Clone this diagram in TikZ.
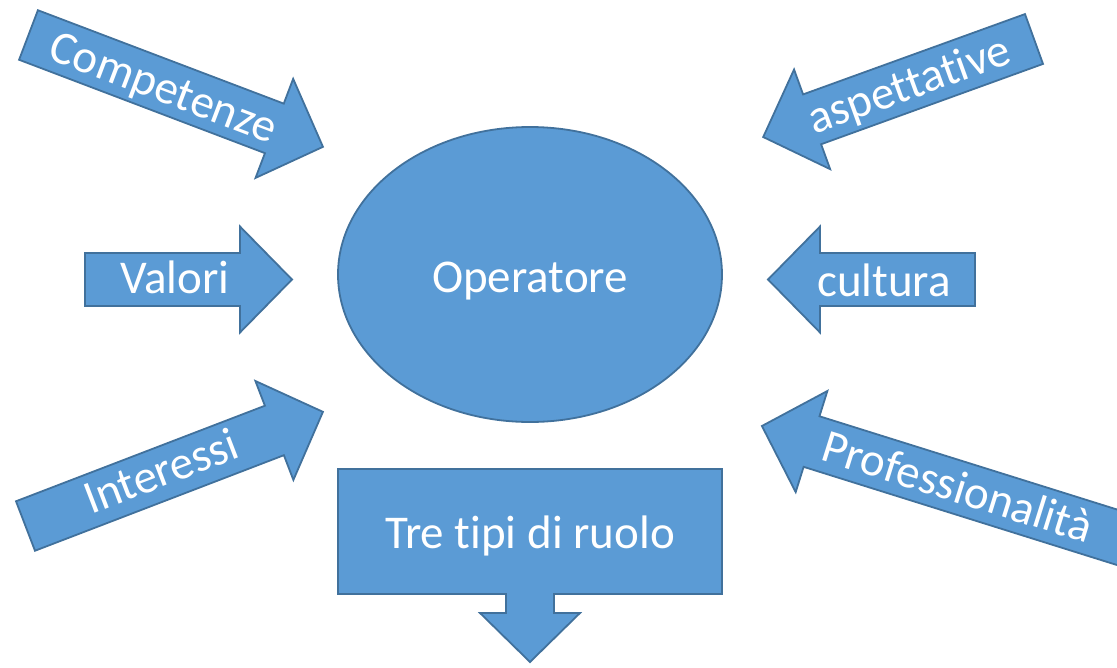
\documentclass[tikz,border=0pt]{standalone}
\usepackage{fontspec}
\setmainfont{Carlito}[Ligatures={NoCommon}]
\usepackage{tikz}
\usetikzlibrary{shapes.geometric}

\definecolor{blkfill}{HTML}{5B9BD5}
\definecolor{blkline}{HTML}{41719C}

\tikzset{
  blk/.style={fill=blkfill, draw=blkline, line width=1.8pt, line join=miter},
  lbl/.style={text=white, font=\fontsize{47}{56}\selectfont, inner sep=0pt, anchor=base}
}

\begin{document}
\begin{tikzpicture}[x=1pt, y=-1pt]
%frame
\useasboundingbox (0,0) rectangle (1117,667);
\clip (0,0) rectangle (1117,667);

%left arrows
\begin{scope}[shift={(28.5,35)}, rotate=-20.8]
\draw[blk] (0,-26.5) -- (263,-26.5) -- (263,-53) -- (315,0) -- (263,53) -- (263,26.5) -- (0,26.5) -- cycle;
\node[lbl, rotate=-20.8] (comp) at (145,16) {Competenze};
\end{scope}
\begin{scope}[shift={(85,279.5)}]
\draw[blk] (0,-26.5) -- (155,-26.5) -- (155,-53) -- (207,0) -- (155,53) -- (155,26.5) -- (0,26.5) -- cycle;
\node[lbl] (val) at (90,14) {Valori};
\end{scope}
\begin{scope}[shift={(25.5,526)}, rotate=21]
\draw[blk] (0,-26.5) -- (266.6,-26.5) -- (266.6,-53) -- (318.6,0) -- (266.6,53) -- (266.6,26.5) -- (0,26.5) -- cycle;
\node[lbl, rotate=21] (int) at (146,13) {Interessi};
\end{scope}

%right arrows
\begin{scope}[shift={(1034,39)}, rotate=199.9]
\draw[blk] (0,-26.5) -- (236,-26.5) -- (236,-53) -- (288,0) -- (236,53) -- (236,26.5) -- (0,26.5) -- cycle;
\node[lbl, rotate=19.9] (asp) at (133,-15) {aspettative};
\end{scope}
\begin{scope}[shift={(975,279.5)}, rotate=180]
\draw[blk] (0,-26.5) -- (155,-26.5) -- (155,-53) -- (207,0) -- (155,53) -- (155,26.5) -- (0,26.5) -- cycle;
\node[lbl] (cult) at (91,-16.5) {cultura};
\end{scope}
\begin{scope}[shift={(1143.6,545.6)}, rotate=162.6]
\draw[blk] (0,-26.5) -- (348,-26.5) -- (348,-53) -- (400,0) -- (348,53) -- (348,26.5) -- (0,26.5) -- cycle;
\node[lbl, rotate=-17.4] (prof) at (195,-15) {Professionalità};
\end{scope}

%centre
\node[blk, ellipse, minimum width=384pt, minimum height=295pt, inner sep=0pt,
      text=white, font=\fontsize{47}{56}\selectfont, text height=35pt, text depth=0pt] (op) at (530,274.5) {Operatore};

%bottom
\draw[blk] (338,469) -- (722,469) -- (722,594) -- (554,594) -- (554,613) -- (580,613) -- (530,662)
  -- (480,613) -- (506,613) -- (506,594) -- (338,594) -- cycle;
\node[lbl] (ruolo) at (530,548) {Tre tipi di ruolo};
\end{tikzpicture}
\end{document}
